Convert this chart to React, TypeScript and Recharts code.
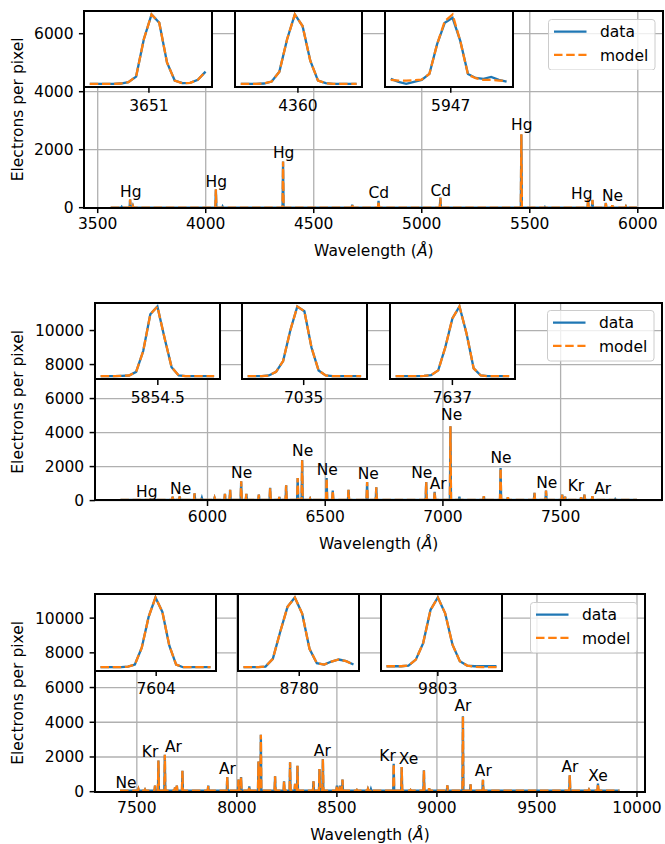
import React from 'react';
import { ComposedChart, LineChart, Line, XAxis, YAxis, CartesianGrid, ReferenceDot, Legend } from 'recharts';

const BLUE = '#1f77b4';
const ORANGE = '#ff7f0e';
const FONT = 'DejaVu Sans, sans-serif';
const FS = 15.5;
const LW = 2.3;
const DASH = '8.5 3.7';

// ---- panel 1 (Hg / Cd lamp) ----
const p1Range = [3560, 5996];
const p1Base = 0;
const p1Waves = [3611, 3650, 3663, 4047, 4078, 4358, 4678, 4800, 5086, 5461, 5570, 5770, 5790, 5852, 5882, 5945];
const p1Data = [30, 280, 60, 630, 40, 1590, 100, 240, 345, 2520, 25, 300, 265, 165, 80, 40];
const p1Model = [0, 290, 55, 635, 0, 1590, 120, 235, 340, 2530, 0, 300, 270, 160, 80, 40];
const p1LabelWave = [3653, 4049, 4361, 4801, 5088, 5463, 5741, 5883];
const p1LabelLevel = [359, 703, 1717, 324, 417, 2693, 300, 234];
const p1LabelText = ['Hg', 'Hg', 'Hg', 'Cd', 'Cd', 'Hg', 'Hg', 'Ne'];
const p1XTicks = [3500, 4000, 4500, 5000, 5500, 6000];
const p1YTicks = [0, 2000, 4000, 6000];

// ---- panel 2 (Ne lamp) ----
const p2Range = [5630, 7825];
const p2Base = 40;
const p2Waves = [5852, 5882, 5945, 5976, 6030, 6074, 6096, 6143, 6165, 6218, 6266, 6305, 6334, 6383, 6402, 6436, 6506, 6532, 6599, 6678, 6717, 6929, 6965, 7032, 7070, 7174, 7245, 7276, 7389, 7438, 7507, 7519, 7587, 7601, 7635, 7732];
const p2Data = [235, 250, 431, 157, 160, 392, 627, 1137, 392, 353, 745, 215, 902, 1333, 2392, 117, 1333, 588, 627, 1098, 784, 1098, 510, 4372, 235, 255, 1921, 200, 451, 588, 353, 235, 200, 353, 255, 90];
const p2Model = [235, 250, 431, 157, 160, 392, 627, 1137, 392, 353, 745, 215, 902, 1333, 2392, 117, 1333, 588, 627, 1098, 784, 1098, 510, 4372, 40, 255, 1921, 200, 451, 588, 353, 235, 200, 353, 255, 40];
const p2LabelWave = [5742, 5886, 6145, 6404, 6509, 6683, 6910, 6980, 7037, 7247, 7441, 7565, 7679];
const p2LabelLevel = [218, 359, 1335, 2612, 1494, 1276, 1335, 688, 4729, 2182, 747, 553, 394];
const p2LabelText = ['Hg', 'Ne', 'Ne', 'Ne', 'Ne', 'Ne', 'Ne', 'Ar', 'Ne', 'Ne', 'Ne', 'Kr', 'Ar'];
const p2XTicks = [6000, 6500, 7000, 7500];
const p23YTicks = [0, 2000, 4000, 6000, 8000, 10000];

// ---- panel 3 (Ar / Kr / Xe) ----
const p3Range = [7416, 9913];
const p3Base = 60;
const p3Waves = [7508, 7541, 7591, 7608, 7640, 7691, 7700, 7728, 7857, 7952, 8008, 8021, 8062, 8108, 8120, 8191, 8236, 8266, 8291, 8303, 8383, 8413, 8430, 8500, 8515, 8528, 8600, 8655, 8670, 8784, 8824, 8868, 8935, 8961, 9052, 9130, 9168, 9230, 9664, 9760, 9805];
const p3Data = [150, 120, 345, 1803, 2131, 250, 345, 1210, 345, 845, 700, 845, 300, 1745, 3283, 881, 600, 1690, 450, 1498, 600, 1306, 1883, 345, 345, 700, 100, 150, 150, 1613, 1420, 100, 1229, 200, 365, 4339, 420, 690, 940, 120, 460];
const p3Model = [150, 120, 345, 1803, 2131, 250, 345, 1210, 345, 845, 700, 845, 300, 1745, 3283, 881, 600, 1690, 450, 1498, 600, 1306, 1883, 345, 345, 700, 100, 150, 150, 1613, 1420, 100, 1229, 200, 365, 4339, 420, 690, 940, 120, 460];
const p3LabelWave = [7446, 7566, 7683, 7953, 8427, 8753, 8858, 9130, 9232, 9665, 9805];
const p3LabelLevel = [196, 1981, 2310, 1025, 2079, 1791, 1601, 4671, 887, 1117, 639];
const p3LabelText = ['Ne', 'Kr', 'Ar', 'Ar', 'Ar', 'Kr', 'Xe', 'Ar', 'Ar', 'Ar', 'Xe'];
const p3XTicks = [7500, 8000, 8500, 9000, 9500, 10000];

// ---- inset line profiles (pixel index along the trace) ----
const p1InsetNames = ['3651', '4360', '5947'];
const p1InsetTicks = [7.66, 7.4, 7.77];
const p1InsetData = [
  [10, 10, 10, 10, 11, 15, 32, 145, 220, 195, 75, 20, 12, 13, 22, 47],
  [10, 10, 10, 11, 17, 47, 145, 220, 185, 80, 20, 12, 10, 10, 10, 10],
  [25, 16, 10, 16, 22, 40, 130, 195, 210, 140, 40, 28, 25, 31, 22, 17],
];
const p1InsetModel = [
  [10, 10, 10, 10, 11, 15, 32, 145, 220, 195, 75, 20, 12, 13, 22, 47],
  [10, 10, 10, 11, 17, 47, 145, 220, 185, 80, 20, 12, 10, 10, 10, 10],
  [22, 20, 20, 21, 23, 40, 130, 200, 220, 140, 38, 27, 22, 22, 20, 20],
];

const p2InsetNames = ['5854.5', '7035', '7637'];
const p2InsetTicks = [8.06, 7.9, 8.0];
const p2InsetData = [
  [10, 10, 10, 11, 12, 23, 85, 195, 218, 125, 37, 12, 10, 10, 10, 10, 10],
  [10, 10, 10, 12, 23, 55, 145, 217, 203, 95, 27, 12, 10, 10, 10, 10, 10],
  [10, 10, 10, 10, 11, 13, 27, 95, 180, 215, 135, 33, 12, 10, 10, 10, 10],
];
const p2InsetModel = p2InsetData;

const p3InsetNames = ['7604', '8780', '9803'];
const p3InsetTicks = [8.1, 7.6, 7.0];
const p3InsetData = [
  [10, 10, 10, 10, 12, 18, 68, 160, 218, 175, 75, 18, 10, 10, 10, 10, 10],
  [10, 10, 10, 12, 35, 115, 190, 218, 170, 65, 22, 18, 27, 33, 28, 18],
  [10, 10, 10, 12, 30, 80, 180, 218, 170, 75, 25, 12, 10, 10, 10, 10],
];
const p3InsetModel = [
  [10, 10, 10, 10, 12, 18, 68, 160, 218, 175, 75, 18, 10, 10, 10, 10, 10],
  [10, 10, 10, 12, 35, 115, 190, 218, 170, 65, 22, 18, 27, 33, 28, 18],
  [10, 10, 10, 12, 30, 80, 180, 218, 170, 75, 25, 12, 8, 7, 7, 7],
];

// layout (page pixels)
const PLOTS = [
  { left: 84.3, top: 11, width: 579, height: 196.7 },
  { left: 95, top: 302.7, width: 567.3, height: 197.6 },
  { left: 95, top: 594, width: 550, height: 197.7 },
];
const MT = 10;
const XAXIS_H = 53;
const INSET_SLOTS = [0, 0.26, 0.52];
const LEG_W = 107.5;
const LEG_H = 51.5;

function spikeRows(range: number[], base: number, waves: number[], heights: number[]) {
  const half = 2.5;
  const rows: { x: number; v: number }[] = [{ x: range[0], v: base }];
  waves.forEach((w, i) => {
    rows.push({ x: w - half, v: base }, { x: w, v: heights[i] }, { x: w + half, v: base });
  });
  rows.push({ x: range[1], v: base });
  return rows;
}

const tickStyle = { fontSize: FS, fill: '#000', fontFamily: FONT };

const LegendBox = (props: any) => {
  const items = props.payload || [];
  return (
    <svg width={LEG_W} height={LEG_H} style={{ display: 'block' }}>
      <rect x={0.5} y={0.5} width={LEG_W - 1} height={LEG_H - 1} rx={3} fill="#fff" fillOpacity={0.8} stroke="#cccccc" />
      {items.map((it: any, i: number) => {
        const cy = 12.7 + i * 23.25;
        const dashed = it.value === 'model';
        return (
          <g key={it.value}>
            <line x1={6} x2={38.5} y1={cy} y2={cy} stroke={it.color} strokeWidth={LW} strokeDasharray={dashed ? DASH : undefined} />
            <text x={52} y={cy + 5.65} fontSize={FS} fontFamily={FONT} fill="#000">{it.value}</text>
          </g>
        );
      })}
    </svg>
  );
};

interface PanelProps {
  plot: { left: number; top: number; width: number; height: number };
  xDomain: number[];
  yDomain: number[];
  xTicks: number[];
  yTicks: number[];
  rowsData: { x: number; v: number }[];
  rowsModel: { x: number; v: number }[];
  labelWave: number[];
  labelLevel: number[];
  labelText: string[];
}

const Panel: React.FC<PanelProps> = ({ plot, xDomain, yDomain, xTicks, yTicks, rowsData, rowsModel, labelWave, labelLevel, labelText }) => {
  const right = 665 - (plot.left + plot.width);
  const h = MT + plot.height + XAXIS_H;
  const cx = plot.left + plot.width / 2;
  const cy = MT + plot.height / 2;
  return (
    <>
      <div style={{ position: 'absolute', left: 0, top: plot.top - MT }}>
        <ComposedChart width={665} height={h} margin={{ top: MT, right, bottom: 0, left: 0 }}>
          <CartesianGrid stroke="#b0b0b0" strokeWidth={1.3} />
          <XAxis
            type="number"
            dataKey="x"
            domain={xDomain}
            ticks={xTicks}
            interval={0}
            allowDataOverflow
            height={XAXIS_H}
            axisLine={false}
            tickLine={{ stroke: '#000', strokeWidth: 1.5 }}
            tickSize={5.4}
            tickMargin={5.4}
            tick={tickStyle}
            label={{
              content: () => (
                <text x={cx} y={MT + plot.height + 48.2} textAnchor="middle" fontSize={FS} fontFamily={FONT} fill="#000">
                  Wavelength (<tspan fontStyle="italic">Å</tspan>)
                </text>
              ),
            }}
          />
          <YAxis
            type="number"
            domain={yDomain}
            ticks={yTicks}
            interval={0}
            allowDataOverflow
            width={plot.left}
            axisLine={false}
            tickLine={{ stroke: '#000', strokeWidth: 1.5 }}
            tickSize={5.4}
            tickMargin={5.4}
            tick={tickStyle}
            label={{
              content: () => (
                <text x={23.3} y={cy} transform={`rotate(-90 23.3 ${cy})`} textAnchor="middle" fontSize={FS} fontFamily={FONT} fill="#000">
                  Electrons per pixel
                </text>
              ),
            }}
          />
          <Line data={rowsData} dataKey="v" name="data" type="linear" stroke={BLUE} strokeWidth={LW} dot={false} isAnimationActive={false} />
          <Line data={rowsModel} dataKey="v" name="model" type="linear" stroke={ORANGE} strokeWidth={LW} strokeDasharray={DASH} dot={false} isAnimationActive={false} />
          {labelWave.map((w, i) => (
            <ReferenceDot
              key={`lab-${i}`}
              x={w}
              y={labelLevel[i]}
              r={0}
              ifOverflow="visible"
              shape={(p: any) => (
                <text x={p.cx} y={p.cy} textAnchor="middle" fontSize={FS} fontFamily={FONT} fill="#000">
                  {labelText[i]}
                </text>
              )}
            />
          ))}
          <Legend
            layout="vertical"
            align="center"
            verticalAlign="middle"
            content={<LegendBox />}
            wrapperStyle={{ left: plot.left + plot.width - 7.75 - LEG_W, top: MT + 7.75, width: LEG_W, height: LEG_H }}
          />
        </ComposedChart>
      </div>
      <div
        style={{
          position: 'absolute',
          left: plot.left - 1,
          top: plot.top - 1,
          width: plot.width + 2,
          height: plot.height + 2,
          border: '2px solid #000',
          boxSizing: 'border-box',
          pointerEvents: 'none',
        }}
      />
    </>
  );
};

interface InsetProps {
  plot: { left: number; top: number; width: number; height: number };
  slot: number;
  data: number[];
  model: number[];
  tickPos: number;
  tickLabel: string;
}

const Inset: React.FC<InsetProps> = ({ plot, slot, data, model, tickPos, tickLabel }) => {
  const w = 0.22 * plot.width;
  const h = 0.388 * plot.height;
  const left = plot.left + INSET_SLOTS[slot] * plot.width;
  const rows = data.map((v, i) => ({ x: i, d: v, m: model[i] }));
  const n = data.length - 1;
  const all = [...data, ...model];
  const lo = Math.min(...all);
  const hi = Math.max(...all);
  const pad = (hi - lo) * 0.05;
  return (
    <div style={{ position: 'absolute', left, top: plot.top, width: w, height: h + 30 }}>
      <div style={{ position: 'absolute', left: 0, top: 0, width: w, height: h, background: '#fff' }} />
      <div style={{ position: 'absolute', left: 0, top: 0 }}>
        <LineChart width={w} height={h + 30} data={rows} margin={{ top: 0, right: 0, bottom: 0, left: 0 }}>
          <XAxis
            type="number"
            dataKey="x"
            domain={[-0.05 * n, n * 1.05]}
            ticks={[tickPos]}
            interval={0}
            tickFormatter={() => tickLabel}
            height={30}
            axisLine={false}
            tickLine={{ stroke: '#000', strokeWidth: 1.5 }}
            tickSize={5.4}
            tickMargin={7}
            tick={tickStyle}
          />
          <YAxis hide type="number" domain={[lo - pad, hi + pad]} />
          <Line dataKey="d" type="linear" stroke={BLUE} strokeWidth={LW} dot={false} isAnimationActive={false} />
          <Line dataKey="m" type="linear" stroke={ORANGE} strokeWidth={LW} strokeDasharray={DASH} dot={false} isAnimationActive={false} />
        </LineChart>
      </div>
      <div
        style={{
          position: 'absolute',
          left: -1,
          top: -1,
          width: w + 2,
          height: h + 2,
          border: '2px solid #000',
          boxSizing: 'border-box',
          pointerEvents: 'none',
        }}
      />
    </div>
  );
};

export default function App() {
  const panels = [
    {
      xDomain: [3438, 6118], yDomain: [0, 6783], xTicks: p1XTicks, yTicks: p1YTicks,
      rowsData: spikeRows(p1Range, p1Base, p1Waves, p1Data), rowsModel: spikeRows(p1Range, p1Base, p1Waves, p1Model),
      labelWave: p1LabelWave, labelLevel: p1LabelLevel, labelText: p1LabelText,
      insetNames: p1InsetNames, insetTicks: p1InsetTicks, insetData: p1InsetData, insetModel: p1InsetModel,
    },
    {
      xDomain: [5522, 7932], yDomain: [0, 11620], xTicks: p2XTicks, yTicks: p23YTicks,
      rowsData: spikeRows(p2Range, p2Base, p2Waves, p2Data), rowsModel: spikeRows(p2Range, p2Base, p2Waves, p2Model),
      labelWave: p2LabelWave, labelLevel: p2LabelLevel, labelText: p2LabelText,
      insetNames: p2InsetNames, insetTicks: p2InsetTicks, insetData: p2InsetData, insetModel: p2InsetModel,
    },
    {
      xDomain: [7291, 10040], yDomain: [0, 11390], xTicks: p3XTicks, yTicks: p23YTicks,
      rowsData: spikeRows(p3Range, p3Base, p3Waves, p3Data), rowsModel: spikeRows(p3Range, p3Base, p3Waves, p3Model),
      labelWave: p3LabelWave, labelLevel: p3LabelLevel, labelText: p3LabelText,
      insetNames: p3InsetNames, insetTicks: p3InsetTicks, insetData: p3InsetData, insetModel: p3InsetModel,
    },
  ];

  return (
    <div style={{ position: 'absolute', left: 0, top: 0, width: 665, height: 844, background: '#fff', fontFamily: FONT, overflow: 'hidden' }}>
      {panels.map((p, k) => (
        <React.Fragment key={k}>
          <Panel
            plot={PLOTS[k]}
            xDomain={p.xDomain}
            yDomain={p.yDomain}
            xTicks={p.xTicks}
            yTicks={p.yTicks}
            rowsData={p.rowsData}
            rowsModel={p.rowsModel}
            labelWave={p.labelWave}
            labelLevel={p.labelLevel}
            labelText={p.labelText}
          />
          {p.insetNames.map((name, s) => (
            <Inset
              key={name}
              plot={PLOTS[k]}
              slot={s}
              data={p.insetData[s]}
              model={p.insetModel[s]}
              tickPos={p.insetTicks[s]}
              tickLabel={name}
            />
          ))}
        </React.Fragment>
      ))}
    </div>
  );
}
